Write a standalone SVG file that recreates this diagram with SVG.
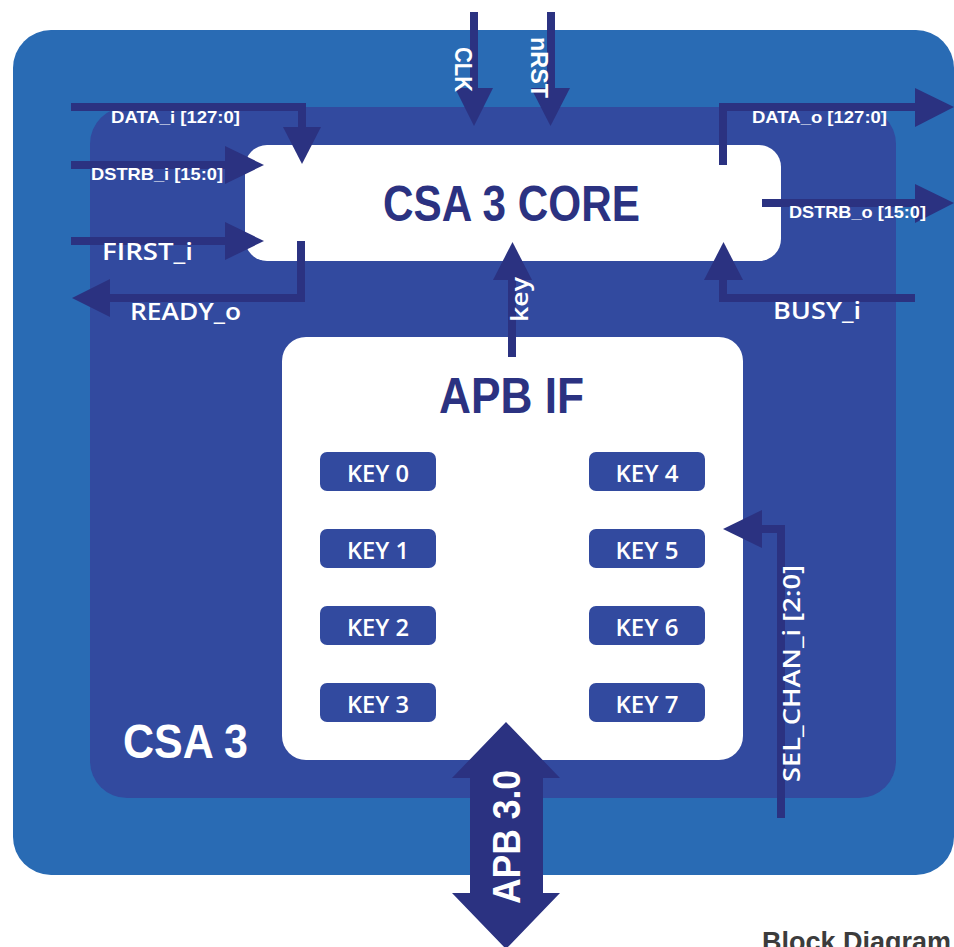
<svg xmlns="http://www.w3.org/2000/svg" width="954" height="947" viewBox="0 0 954 947">
<style>
.wire{fill:none;stroke:#2b3281;stroke-width:8;stroke-linejoin:miter;stroke-linecap:butt}
.head{fill:#2b3281}
.lbl{font-family:"Liberation Sans",Arial,sans-serif;fill:#ffffff}
.sm{font-size:17px;font-weight:bold}
.md{font-family:"Open Sans","Liberation Sans",Arial,sans-serif;font-size:24px;font-weight:600}
.ttl{font-family:"Liberation Sans",Arial,sans-serif;font-weight:bold;fill:#2b3281;text-anchor:middle}
.key rect{fill:#324a9f}
.key text{font-family:"Open Sans","Liberation Sans",Arial,sans-serif;font-size:24px;font-weight:600;fill:#ffffff;text-anchor:middle}
</style>
<rect width="954" height="947" fill="#ffffff"/>
<g id="chip">
  <rect x="13" y="30" width="941" height="845" rx="38" fill="#296bb4"/>
</g>
<g id="csa3">
  <rect x="90" y="107" width="806" height="691" rx="37" fill="#324a9f"/>
  <text class="lbl" x="123" y="758" font-size="48" font-weight="bold" textLength="125" lengthAdjust="spacingAndGlyphs">CSA 3</text>
</g>
<g id="core">
  <rect x="245" y="145" width="536" height="116" rx="22" fill="#ffffff"/>
  <text class="ttl" x="511.5" y="221" font-size="50" textLength="257" lengthAdjust="spacingAndGlyphs">CSA 3 CORE</text>
</g>
<g id="apbif">
  <rect x="282" y="337" width="461" height="423" rx="24" fill="#ffffff"/>
  <text class="ttl" x="511.5" y="413" font-size="50" textLength="145" lengthAdjust="spacingAndGlyphs">APB IF</text>
</g>
<g id="key0" class="key"><rect x="320" y="452" width="116" height="39" rx="7"/><text x="378" y="482" textLength="62" lengthAdjust="spacingAndGlyphs">KEY 0</text></g>
<g id="key1" class="key"><rect x="320" y="529" width="116" height="39" rx="7"/><text x="378" y="559" textLength="62" lengthAdjust="spacingAndGlyphs">KEY 1</text></g>
<g id="key2" class="key"><rect x="320" y="606" width="116" height="39" rx="7"/><text x="378" y="636" textLength="62" lengthAdjust="spacingAndGlyphs">KEY 2</text></g>
<g id="key3" class="key"><rect x="320" y="683" width="116" height="39" rx="7"/><text x="378" y="713" textLength="62" lengthAdjust="spacingAndGlyphs">KEY 3</text></g>
<g id="key4" class="key"><rect x="589" y="452" width="116" height="39" rx="7"/><text x="647" y="482" textLength="63" lengthAdjust="spacingAndGlyphs">KEY 4</text></g>
<g id="key5" class="key"><rect x="589" y="529" width="116" height="39" rx="7"/><text x="647" y="559" textLength="63" lengthAdjust="spacingAndGlyphs">KEY 5</text></g>
<g id="key6" class="key"><rect x="589" y="606" width="116" height="39" rx="7"/><text x="647" y="636" textLength="63" lengthAdjust="spacingAndGlyphs">KEY 6</text></g>
<g id="key7" class="key"><rect x="589" y="683" width="116" height="39" rx="7"/><text x="647" y="713" textLength="63" lengthAdjust="spacingAndGlyphs">KEY 7</text></g>
<g id="connectors">
  <path class="wire" d="M71,107 H302 V130"/>
  <polygon class="head" points="283,127 321,127 302,164"/>
  <path class="wire" d="M71,165 H228"/>
  <polygon class="head" points="225,146 225,184 264,165"/>
  <path class="wire" d="M71,241 H228"/>
  <polygon class="head" points="225,222 225,260 264,241"/>
  <path class="wire" d="M301,241 V298 H108"/>
  <polygon class="head" points="110,279 110,317 72,298"/>
  <path class="wire" d="M474,12 V90"/>
  <polygon class="head" points="455,88 493,88 474,126"/>
  <path class="wire" d="M551,12 V90"/>
  <polygon class="head" points="531,88 570,88 550.5,126"/>
  <path class="wire" d="M723,165 V107 H918"/>
  <polygon class="head" points="915,88 915,127 954,107"/>
  <path class="wire" d="M762,203 H918"/>
  <polygon class="head" points="915,184 915,223 954,203"/>
  <path class="wire" d="M915,298 H723 V278"/>
  <polygon class="head" points="704,280 743,280 723.5,242"/>
  <path class="wire" d="M512,357 V278"/>
  <polygon class="head" points="493,280 532,280 512.5,242"/>
  <path class="wire" d="M781,818 V529 H760"/>
  <polygon class="head" points="762,510 762,548 723,529"/>
  <polygon class="head" points="506,722 560,778 543,778 543,893 560,893 506,949 452,893 470,893 470,778 452,778"/>
</g>
<g id="labels">
  <text class="lbl sm" x="111" y="123" textLength="129" lengthAdjust="spacingAndGlyphs">DATA_i [127:0]</text>
  <text class="lbl sm" x="91" y="180" textLength="132" lengthAdjust="spacingAndGlyphs">DSTRB_i [15:0]</text>
  <text class="lbl md" x="102" y="260" textLength="91" lengthAdjust="spacingAndGlyphs">FIRST_i</text>
  <text class="lbl md" x="130" y="320" textLength="111" lengthAdjust="spacingAndGlyphs">READY_o</text>
  <text class="lbl sm" x="752" y="123" textLength="135" lengthAdjust="spacingAndGlyphs">DATA_o [127:0]</text>
  <text class="lbl sm" x="789" y="218" textLength="137" lengthAdjust="spacingAndGlyphs">DSTRB_o [15:0]</text>
  <text class="lbl md" x="773" y="319" textLength="88" lengthAdjust="spacingAndGlyphs">BUSY_i</text>
  <text class="lbl" font-size="24" font-weight="bold" transform="translate(455,47) rotate(90)" textLength="45" lengthAdjust="spacingAndGlyphs">CLK</text>
  <text class="lbl" font-size="24" font-weight="bold" transform="translate(531,37) rotate(90)" textLength="61" lengthAdjust="spacingAndGlyphs">nRST</text>
  <text class="lbl md" font-size="22" transform="translate(528,322) rotate(-90)" textLength="45" lengthAdjust="spacingAndGlyphs">key</text>
  <text class="lbl md" font-weight="normal" transform="translate(800,782) rotate(-90)" textLength="217" lengthAdjust="spacingAndGlyphs">SEL_CHAN_i [2:0]</text>
  <text class="lbl" font-size="38" font-weight="bold" transform="translate(520,904) rotate(-90)" textLength="134" lengthAdjust="spacingAndGlyphs">APB 3.0</text>
  <text x="762" y="951" font-family="Liberation Sans, Arial, sans-serif" font-size="27" font-weight="bold" fill="#3c3c3c">Block Diagram</text>
</g>
</svg>
